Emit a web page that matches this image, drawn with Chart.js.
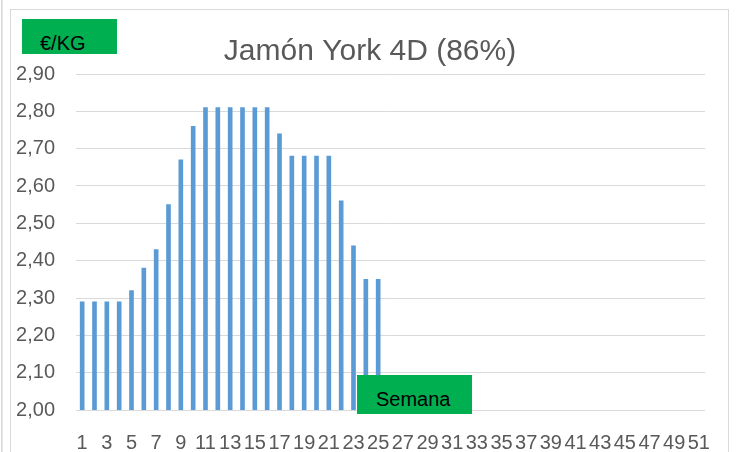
<!DOCTYPE html>
<html lang="es">
<head>
  <meta charset="UTF-8" />
  <title>Jamón York 4D (86%)</title>
  <style>
    body { margin: 0; background: #fff; }
    .wrap { position: relative; width: 743px; height: 452px; overflow: hidden; }
    .frame { position: absolute; left: 10px; top: 9px; width: 719px; height: 460px; border: 1px solid #d9d9d9; box-sizing: border-box; }
    .edge { position: absolute; left: 1px; top: 0; width: 2px; height: 452px; border-left: 1px solid #d9d9d9; border-right: 1px solid #e6e6e6; box-sizing: border-box; }
    .tag { position: absolute; background: #00B050; color: #000; font-family: "Liberation Sans", Arial, sans-serif; font-size: 20px; box-sizing: border-box; }
    #unit { left: 22px; top: 19px; width: 95px; height: 35px; padding: 13px 0 0 18px; line-height: 22px; }
    #week { left: 357px; top: 375px; width: 115px; height: 39px; padding: 13px 0 0 19px; line-height: 22px; }
    canvas { position: absolute; left: 0; top: 0; }
  </style>
</head>
<body>
<div class="wrap">
  <div class="edge"></div>
  <div class="frame"></div>
  <canvas id="priceChart" width="743" height="452"></canvas>
  <div class="tag" id="unit">€/KG</div>
  <div class="tag" id="week">Semana</div>
</div>

<script src="https://cdn.jsdelivr.net/npm/chart.js"></script>
<script>
  const chartTitle = 'Jamón York 4D (86%)';

  // semanas 1..51
  const weeks = [];
  for (let w = 1; w <= 51; w++) weeks.push(String(w));

  // precio €/kg por semana (solo hasta la 25)
  const prices = [2.29, 2.29, 2.29, 2.29, 2.32, 2.38, 2.43, 2.55, 2.67, 2.76,
                  2.81, 2.81, 2.81, 2.81, 2.81, 2.81, 2.74, 2.68, 2.68, 2.68,
                  2.68, 2.56, 2.44, 2.35, 2.35];

  const yMin = 2.0;
  const yMax = 2.9;
  const yStep = 0.1;

  const textGrey = '#595959';
  const tickFont = { family: '"Liberation Sans", Arial, sans-serif', size: 20 };

  // title drawn centred over the whole frame
  const titlePlugin = {
    id: 'frameTitle',
    afterDraw(chart) {
      const ctx = chart.ctx;
      ctx.save();
      ctx.font = '30px "Liberation Sans", Arial, sans-serif';
      ctx.fillStyle = textGrey;
      ctx.textAlign = 'center';
      ctx.textBaseline = 'middle';
      ctx.fillText(chartTitle, 370, 52);
      ctx.restore();
    }
  };

  const ctx = document.getElementById('priceChart').getContext('2d');
  new Chart(ctx, {
    type: 'bar',
    data: {
      labels: weeks,
      datasets: [{
        label: '€/KG',
        data: prices,
        backgroundColor: '#5B9BD5',
        borderWidth: 0,
        barThickness: 4
      }]
    },
    options: {
      responsive: false,
      animation: false,
      layout: { padding: { left: 10, right: 38, top: 74, bottom: 0 } },
      plugins: {
        legend: { display: false },
        title: { display: false },
        tooltip: { enabled: false }
      },
      scales: {
        x: {
          grid: { display: false },
          border: { display: false },
          ticks: {
            color: textGrey,
            font: tickFont,
            autoSkip: false,
            maxRotation: 0,
            padding: 13,
            callback: function (value, index) {
              return index % 2 === 0 ? weeks[index] : '';
            }
          },
          afterFit(scale) { scale.height = 42; }
        },
        y: {
          min: yMin,
          max: yMax,
          grid: { color: '#d9d9d9', lineWidth: 1, drawTicks: false },
          border: { display: false },
          ticks: {
            stepSize: yStep,
            color: textGrey,
            font: tickFont,
            padding: 21,
            callback: v => v.toFixed(2).replace('.', ',')
          },
          afterFit(scale) { scale.width = 66; }
        }
      }
    },
    plugins: [titlePlugin]
  });
</script>
</body>
</html>
